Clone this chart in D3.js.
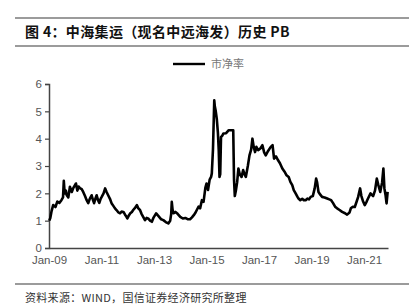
<!DOCTYPE html>
<html>
<head>
<meta charset="utf-8">
<script src="https://cdn.jsdelivr.net/npm/d3@7"></script>
<style>
body { margin: 0; background: #fff; }
svg { display: block; }
</style>
</head>
<body>
<div id="chart"></div>
<script>
// data: PB of 中海集运 (now 中远海发)
var dates = [
  "2009-01-05","2009-01-19","2009-02-06","2009-02-28","2009-04-01","2009-04-26","2009-05-25","2009-06-23",
  "2009-07-15","2009-07-26","2009-08-07","2009-08-25","2009-09-05","2009-09-27","2009-10-19","2009-11-14",
  "2009-12-06","2010-01-11","2010-01-30","2010-02-17","2010-03-06","2010-04-01","2010-04-22","2010-05-17",
  "2010-06-09","2010-07-01","2010-07-22","2010-08-17","2010-09-05","2010-09-20","2010-10-08","2010-10-26",
  "2010-11-14","2010-12-02","2010-12-20","2011-01-04","2011-01-30","2011-02-21","2011-03-13","2011-04-04",
  "2011-04-29","2011-05-21","2011-06-13","2011-07-08","2011-07-29","2011-08-25","2011-09-16","2011-10-08",
  "2011-11-03","2011-11-25","2011-12-13","2011-12-27","2012-01-19","2012-02-06","2012-02-28","2012-03-20",
  "2012-04-15","2012-05-07","2012-05-28","2012-06-20","2012-07-11","2012-08-07","2012-08-28","2012-09-20",
  "2012-10-11","2012-11-07","2012-12-02","2012-12-23","2013-01-30","2013-02-21","2013-03-13","2013-04-11",
  "2013-05-10","2013-06-13","2013-07-19","2013-08-14","2013-08-28","2013-09-05","2013-09-16","2013-10-01",
  "2013-10-26","2013-11-25","2014-01-01","2014-02-06","2014-03-13","2014-04-19","2014-05-17","2014-06-13",
  "2014-07-08","2014-07-26","2014-08-21","2014-09-13","2014-10-04","2014-10-29","2014-11-21","2014-12-16",
  "2015-01-01","2015-01-22","2015-02-14","2015-03-06","2015-03-16","2015-04-01","2015-04-11","2015-04-19",
  "2015-04-26","2015-05-10","2015-05-25","2015-06-09","2015-06-20","2015-07-01","2015-07-11","2015-07-22",
  "2015-08-07","2015-08-25","2015-10-01","2015-11-07","2015-12-13","2016-01-08","2016-01-19","2016-01-30",
  "2016-02-14","2016-03-02","2016-03-20","2016-04-08","2016-05-03","2016-05-25","2016-06-13","2016-07-01",
  "2016-07-29","2016-08-21","2016-09-13","2016-10-01","2016-10-19","2016-11-07","2016-11-25","2016-12-20",
  "2017-01-19","2017-02-17","2017-03-13","2017-04-04","2017-05-07","2017-06-13","2017-07-08","2017-07-29",
  "2017-08-25","2017-09-23","2017-10-19","2017-11-21","2017-12-20","2018-01-19","2018-02-17","2018-03-13",
  "2018-04-08","2018-04-29","2018-05-25","2018-06-20","2018-07-04","2018-07-29","2018-08-25","2018-09-16",
  "2018-10-11","2018-11-07","2018-11-28","2018-12-20","2019-01-19","2019-02-14","2019-03-06","2019-03-20",
  "2019-04-08","2019-05-03","2019-05-28","2019-07-01","2019-08-07","2019-09-05","2019-10-01","2019-10-26",
  "2019-11-25","2019-12-23","2020-01-26","2020-03-02","2020-04-11","2020-05-10","2020-06-13","2020-07-01",
  "2020-07-29","2020-08-25","2020-09-20","2020-10-11","2020-11-07","2020-11-25","2020-12-20","2021-01-11",
  "2021-02-06","2021-02-25","2021-04-01","2021-05-07","2021-06-02","2021-06-27","2021-07-19","2021-08-14",
  "2021-09-09","2021-09-27","2021-10-11","2021-10-26","2021-11-10","2021-11-25"
];
var pb = [
  1.00,1.10,1.35,1.57,1.50,1.70,1.65,1.75,
  1.85,2.46,2.00,2.10,1.93,1.85,2.24,2.05,
  2.20,2.36,2.10,2.25,2.19,2.15,2.05,1.90,
  1.75,1.64,1.80,1.93,1.75,1.64,1.80,1.93,
  1.75,1.65,1.80,1.87,2.00,2.18,2.05,1.93,
  1.80,1.64,1.55,1.45,1.39,1.30,1.27,1.33,
  1.32,1.22,1.15,1.08,1.20,1.27,1.32,1.40,
  1.48,1.57,1.45,1.39,1.25,1.12,1.02,1.10,
  1.08,1.00,0.96,1.10,1.27,1.20,1.14,1.05,
  1.02,0.95,0.90,1.00,1.25,1.69,1.40,1.27,
  1.32,1.25,1.14,1.08,1.10,1.05,1.05,1.12,
  1.20,1.27,1.40,1.51,1.45,1.75,1.69,2.20,
  2.36,2.12,2.50,2.60,2.73,3.60,4.60,5.40,
  5.20,5.00,4.70,4.20,3.60,2.60,2.70,4.06,
  4.10,4.19,4.20,4.31,4.31,4.31,2.50,1.90,
  2.10,2.40,2.91,2.70,2.60,2.85,2.70,2.60,
  3.00,3.39,3.60,4.00,3.70,3.51,3.70,3.58,
  3.64,3.76,3.50,3.39,3.55,3.70,3.76,3.27,
  3.35,3.21,3.10,2.91,2.80,2.66,2.60,2.42,
  2.30,2.12,2.00,1.87,1.81,1.75,1.80,1.75,
  1.75,1.81,1.78,1.87,1.90,2.18,2.54,2.40,
  2.05,1.95,1.87,1.85,1.81,1.78,1.75,1.65,
  1.51,1.45,1.39,1.32,1.27,1.22,1.30,1.45,
  1.51,1.50,1.70,1.87,2.18,1.90,1.69,1.57,
  1.70,1.81,2.00,1.90,2.10,2.54,2.30,2.05,
  2.40,2.91,2.18,1.95,1.63,2.05
];
var yTicks = [0, 1, 2, 3, 4, 5, 6];
var xTicks = ["2009-01-01","2011-01-01","2013-01-01","2015-01-01","2017-01-01","2019-01-01","2021-01-01"];
var seriesName = "市净率";
var title = "图 4：中海集运（现名中远海发）历史 PB";
var source = "资料来源：WIND，国信证券经济研究所整理";

var W = 409, H = 308;
var parseDate = d3.timeParse("%Y-%m-%d");
var data = dates.map(function(d, i) { return {date: parseDate(d), v: pb[i]}; });

var svg = d3.select("#chart").append("svg")
    .attr("width", W)
    .attr("height", H);

var cjk = "'Noto Sans CJK SC', 'Noto Sans', sans-serif";
var latin = "'Liberation Sans', Arial, sans-serif";

// frame rules
[18, 46, 284].forEach(function(y) {
  svg.append("line")
    .attr("x1", 15).attr("x2", W)
    .attr("y1", y).attr("y2", y)
    .attr("stroke", "#7a7a7a")
    .attr("stroke-width", 1.3);
});

svg.append("text")
    .attr("x", 25).attr("y", 37)
    .style("font-family", cjk)
    .style("font-size", "14px")
    .style("font-weight", "bold")
    .style("letter-spacing", "0.35px")
    .attr("fill", "#111")
    .text(title);

svg.append("text")
    .attr("x", 25).attr("y", 302)
    .style("font-family", cjk)
    .style("font-size", "11px")
    .style("letter-spacing", "0.3px")
    .attr("fill", "#333")
    .text(source);

// scales
var x = d3.scaleTime()
    .domain([parseDate("2009-01-01"), parseDate("2021-11-30")])
    .range([49, 388]);
var y = d3.scaleLinear()
    .domain([0, 6])
    .range([248, 84]);

// y axis
var yAxis = svg.append("g")
    .attr("transform", "translate(49,0)")
    .call(d3.axisLeft(y).tickValues(yTicks).tickSize(4).tickPadding(3).tickFormat(d3.format("d")));
yAxis.select(".domain").attr("stroke", "#444").attr("stroke-width", 1.5);
yAxis.selectAll(".tick line").attr("stroke", "#444").attr("stroke-width", 1.2);
yAxis.selectAll("text")
    .style("font-family", latin)
    .style("font-size", "11.5px")
    .attr("fill", "#555");

// x axis
var xAxis = svg.append("g")
    .attr("transform", "translate(0,248)")
    .call(d3.axisBottom(x)
        .tickValues(xTicks.map(parseDate))
        .tickSize(0).tickPadding(8)
        .tickFormat(d3.timeFormat("Jan-%y")));
xAxis.select(".domain").attr("stroke", "#444").attr("stroke-width", 1.5);
xAxis.selectAll("text")
    .style("font-family", latin)
    .style("font-size", "11.5px")
    .attr("fill", "#555");

// the PB line
var line = d3.line()
    .x(function(d) { return x(d.date); })
    .y(function(d) { return y(d.v); });

svg.append("path")
    .datum(data)
    .attr("d", line)
    .attr("fill", "none")
    .attr("stroke", "#000")
    .attr("stroke-width", 2.6)
    .attr("stroke-linejoin", "round");

// legend
svg.append("line")
    .attr("x1", 173).attr("x2", 205)
    .attr("y1", 64).attr("y2", 64)
    .attr("stroke", "#000")
    .attr("stroke-width", 2.4);
svg.append("text")
    .attr("x", 211).attr("y", 68)
    .style("font-family", cjk)
    .style("font-size", "11px")
    .attr("fill", "#777")
    .text(seriesName);
</script>
</body>
</html>
